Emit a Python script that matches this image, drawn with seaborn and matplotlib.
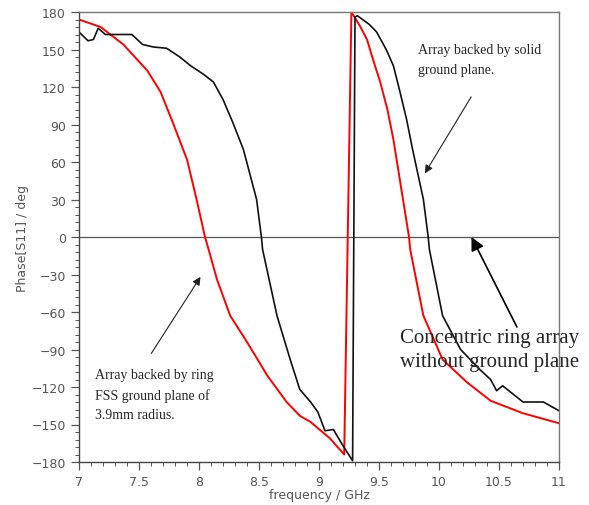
import matplotlib
matplotlib.use("Agg")
import matplotlib.pyplot as plt
import seaborn as sns
import pandas as pd
from matplotlib.ticker import MultipleLocator

# Data
freq_solid = [7.0, 7.075, 7.12, 7.16, 7.22, 7.44, 7.53, 7.62, 7.73, 7.84, 7.93, 8.04, 8.12,
              8.2, 8.28, 8.37, 8.48, 8.52, 8.53, 8.65, 8.76, 8.84, 8.93, 8.99, 9.05, 9.12,
              9.2, 9.28, 9.30, 9.32, 9.42, 9.48, 9.56, 9.62, 9.67, 9.73, 9.78, 9.87, 9.91,
              9.92, 10.03, 10.18, 10.34, 10.43, 10.48, 10.53, 10.7, 10.87, 11.0]
phase_solid = [164, 157, 158, 167, 162, 162, 154, 152, 151, 144, 137, 130, 124,
               110, 92, 70, 30, 0, -10, -63, -98, -122, -132, -140, -155, -154,
               -167, -179, 176, 177, 170, 164, 150, 137, 118, 94, 70, 30, 0,
               -10, -63, -90, -106, -114, -123, -119, -132, -132, -139]

freq_ring = [7.0, 7.18, 7.37, 7.57, 7.68, 7.78, 7.9, 7.98, 8.05, 8.08, 8.15, 8.26, 8.4,
             8.57, 8.73, 8.84, 8.93, 9.09, 9.21, 9.27, 9.34, 9.4, 9.45, 9.51, 9.57, 9.62,
             9.7, 9.75, 9.76, 9.87, 10.03, 10.23, 10.43, 10.7, 11.0]
phase_ring = [174, 168, 154, 133, 116, 92, 62, 30, 0, -10, -34, -63, -84,
              -111, -132, -143, -148, -161, -174, 180, 169, 158, 142, 124, 102, 78,
              30, 0, -10, -63, -98, -116, -131, -141, -149]

x_ticks = [7, 7.5, 8, 8.5, 9, 9.5, 10, 10.5, 11]
x_labels = ["7", "7.5", "8", "8.5", "9", "9.5", "10", "10.5", "11"]
y_ticks = [-180, -150, -120, -90, -60, -30, 0, 30, 60, 90, 120, 150, 180]

df_solid = pd.DataFrame({"f": freq_solid, "p": phase_solid})
df_ring = pd.DataFrame({"f": freq_ring, "p": phase_ring})

sns.set_style("white")
fig = plt.figure(figsize=(5.89, 5.06), dpi=100)
ax = fig.add_axes([79/589, 1-463/506, 480/589, 450/506])

sns.lineplot(data=df_ring, x="f", y="p", sort=False, color="#ff0000", lw=1.4, ax=ax)
sns.lineplot(data=df_solid, x="f", y="p", sort=False, color="#111111", lw=1.2, ax=ax)

ax.axhline(0, color="#555555", lw=0.9, zorder=0)
ax.set_xlim(7, 11)
ax.set_ylim(-180, 180)
ax.set_xticks(x_ticks)
ax.set_xticklabels(x_labels)
ax.set_yticks(y_ticks)
ax.xaxis.set_minor_locator(MultipleLocator(0.1))
ax.yaxis.set_minor_locator(MultipleLocator(6))
ax.tick_params(axis="both", which="major", direction="out", length=6, width=0.9,
               colors="#555555", labelsize=9, labelcolor="#555555", bottom=True, left=True)
ax.tick_params(axis="both", which="minor", direction="out", length=3, width=0.7,
               colors="#555555", bottom=True, left=True)
for s in ax.spines.values():
    s.set_color("#777777")
    s.set_linewidth(1.0)
ax.spines["left"].set_color("#444444")
ax.spines["bottom"].set_color("#444444")

ax.set_xlabel("frequency / GHz", color="#555555", fontsize=9, labelpad=0)
ax.set_ylabel("Phase[S11] / deg", color="#555555", fontsize=9, labelpad=2)

serif = ["Liberation Serif", "DejaVu Serif"]
ax.annotate("", xy=(9.87, 49), xytext=(10.28, 114),
            arrowprops=dict(arrowstyle="-|>", color="#222222", lw=0.8, mutation_scale=12))
ax.text(9.825, 142, "Array backed by solid\nground plane.", family=serif, fontsize=10,
        va="center", ha="left", linespacing=1.75)

ax.annotate("", xy=(8.025, -30), xytext=(7.59, -95),
            arrowprops=dict(arrowstyle="-|>", color="#222222", lw=0.8, mutation_scale=12))
ax.text(7.13, -126, "Array backed by ring\nFSS ground plane of\n3.9mm radius.", family=serif,
        fontsize=10, va="center", ha="left", linespacing=1.6)

ax.annotate("", xy=(10.26, 2), xytext=(10.66, -74),
            arrowprops=dict(arrowstyle="-|>", color="#000000", lw=1.2, mutation_scale=20))
ax.text(9.675, -90, "Concentric ring array\nwithout ground plane", family=serif,
        fontsize=15, va="center", ha="left", linespacing=1.3, clip_on=False)

fig.savefig("out.png", dpi=100)
